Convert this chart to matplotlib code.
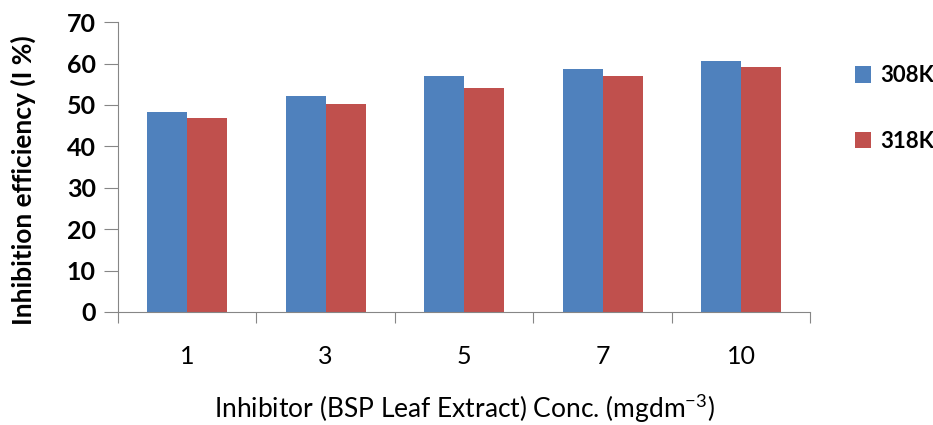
import matplotlib
matplotlib.use("Agg")
import matplotlib.pyplot as plt
import numpy as np

# data
conc = ["1", "3", "5", "7", "10"]
ie_308 = [48.4, 52.1, 57.0, 58.6, 60.7]
ie_318 = [46.8, 50.2, 54.0, 57.0, 59.1]

plt.rcParams['font.family'] = ['Lato', 'DejaVu Sans']

fig = plt.figure(figsize=(9.33, 4.25), dpi=100)
ax = fig.add_axes([0.1265, 0.266, 0.742, 0.682])

x = np.arange(len(conc))
w = 0.289
ax.bar(x - w / 2, ie_308, w, color='#4F81BD', label='308K')
ax.bar(x + w / 2, ie_318, w, color='#C0504D', label='318K')

ax.set_xlim(-0.5, len(conc) - 0.5)
ax.set_ylim(0, 70)
ax.set_yticks(range(0, 71, 10))

# excel style: ticks between categories, labels at centres
ax.set_xticks(np.arange(-0.5, len(conc), 1))
ax.set_xticklabels([])
ax.set_xticks(x, minor=True)
ax.set_xticklabels(conc, minor=True, fontsize=18)
ax.tick_params(axis='x', which='minor', length=0, pad=24)
ax.tick_params(axis='x', which='major', length=8, color='#868686', direction='out')
ax.tick_params(axis='y', length=10, color='#868686', labelsize=18, pad=6)
for t in ax.get_yticklabels():
    t.set_fontweight('bold')

for s in ['top', 'right']:
    ax.spines[s].set_visible(False)
for s in ['left', 'bottom']:
    ax.spines[s].set_color('#868686')

ax.set_ylabel('Inhibition efficiency (I %)', fontsize=19, fontweight='bold')
ax.yaxis.set_label_coords(-0.118, 0.455)
ax.set_xlabel(r'Inhibitor (BSP Leaf Extract) Conc. (mgdm$^{\mathregular{-3}}$)',
              fontsize=19, labelpad=17)

ax.legend(loc='upper left', bbox_to_anchor=(1.035, 0.92), frameon=False,
          prop={'weight': 'bold', 'size': 16}, handlelength=0.75, handleheight=0.75,
          handletextpad=0.4, labelspacing=2.0)

fig.savefig('out.png', dpi=100)
